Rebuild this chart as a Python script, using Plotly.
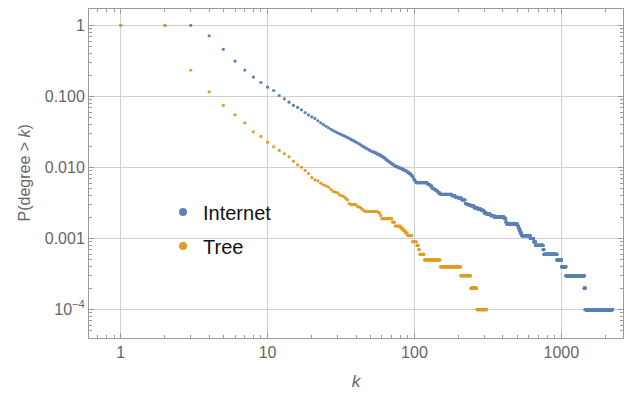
import plotly.graph_objects as go

# Complementary CDF, stored as runs: value holds from k_start[i] to k_start[i+1]-1
internet_k_start = [1, 4, 5, 6, 7, 8, 9, 10, 11, 12, 13, 14, 15, 16, 17, 18, 19, 20, 21, 22,
                    23, 24, 25, 26, 27, 28, 29, 30, 31, 32, 33, 34, 35, 36, 37, 38, 39, 40,
                    41, 42, 43, 44, 45, 46, 47, 48, 49, 50, 51, 52, 54, 56, 58, 60, 62, 64,
                    66, 68, 70, 72, 74, 77, 80, 83, 86, 89, 92, 95, 97, 99, 101, 103, 123,
                    128, 132, 136, 140, 145, 150, 180, 190, 200, 210, 222, 228, 240, 255,
                    270, 285, 298, 310, 330, 350, 410, 420, 425, 505, 512, 518, 525, 535,
                    615, 648, 668, 752, 762, 935, 1005, 1075, 1432, 1452]
internet_p = [1.0, 0.714, 0.459, 0.314, 0.235, 0.187, 0.157, 0.135, 0.121, 0.103, 0.0925,
              0.083, 0.0747, 0.070, 0.0647, 0.0594, 0.0550, 0.0516, 0.0490, 0.0454, 0.0425,
              0.0400, 0.0380, 0.0362, 0.0345, 0.0330, 0.0318, 0.0306, 0.0297, 0.0288, 0.0280,
              0.0272, 0.0264, 0.0256, 0.0248, 0.0240, 0.0234, 0.0227, 0.0221, 0.0215, 0.0208,
              0.0202, 0.0196, 0.0190, 0.0186, 0.0182, 0.0177, 0.0173, 0.0169, 0.0166, 0.0160,
              0.0154, 0.0149, 0.0142, 0.0136, 0.0128, 0.0123, 0.0117, 0.0112, 0.0108, 0.0104,
              0.0100, 0.0097, 0.0093, 0.0090, 0.0086, 0.0082, 0.0078, 0.0074, 0.0068, 0.0064,
              0.0061, 0.0058, 0.0055, 0.0051, 0.0049, 0.0047, 0.0044, 0.0042, 0.0040, 0.0038,
              0.0037, 0.0035, 0.0031, 0.0030, 0.0029, 0.0027, 0.0026, 0.0025, 0.0023, 0.0022,
              0.0021, 0.0020, 0.0019, 0.0017, 0.0016, 0.0015, 0.0014, 0.0013, 0.0012, 0.0011,
              0.0010, 0.0009, 0.0008, 0.0007, 0.0006, 0.0005, 0.0004, 0.0003, 0.0002, 0.0001]
internet_k_max = 2233

tree_k_start = [1, 3, 4, 5, 6, 7, 8, 9, 10, 11, 12, 13, 14, 15, 16, 17, 18, 19, 20, 21, 22,
                23, 24, 25, 26, 27, 28, 29, 30, 31, 32, 33, 34, 35, 36, 37, 41, 43, 44, 45,
                46, 57, 59, 60, 71, 74, 81, 84, 87, 90, 97, 104, 107, 109, 117, 150, 207,
                242, 266]
tree_p = [1.0, 0.235, 0.116, 0.0747, 0.055, 0.0425, 0.0318, 0.0273, 0.0227, 0.0195, 0.0174,
          0.0156, 0.0141, 0.0122, 0.0109, 0.0101, 0.0091, 0.0082, 0.0072, 0.0067, 0.0065,
          0.0060, 0.0057, 0.0055, 0.0053, 0.0049, 0.0046, 0.0045, 0.0044, 0.0041, 0.0040,
          0.0039, 0.0037, 0.0035, 0.0031, 0.0030, 0.0028, 0.0027, 0.0026, 0.0025, 0.0024,
          0.0023, 0.0021, 0.0019, 0.0017, 0.0015, 0.0014, 0.0013, 0.0012, 0.0011, 0.0009,
          0.0008, 0.0007, 0.0006, 0.0005, 0.0004, 0.0003, 0.0002, 0.0001]
tree_k_max = 310

series_names = ["Internet", "Tree"]
x_tick_vals = [1, 10, 100, 1000]
x_tick_text = ["1", "10", "100", "1000"]
y_tick_vals = [1, 0.1, 0.01, 0.001, 0.0001]
y_tick_text = ["1", "0.100", "0.010", "0.001", "10<sup>\u22124</sup>"]


def expand(starts, vals, kmax):
    ks, ps = [], []
    for i, (s, v) in enumerate(zip(starts, vals)):
        e = starts[i + 1] - 1 if i + 1 < len(starts) else kmax
        for k in range(s, e + 1):
            ks.append(k)
            ps.append(v)
    return ks, ps


BLUE = "#5E81B5"
ORANGE = "#E19C24"
GRAY = "#666666"
FRAME = "#9a9a9a"
FONT = "Liberation Sans, Arial, sans-serif"

ik, ip = expand(internet_k_start, internet_p, internet_k_max)
tk, tp = expand(tree_k_start, tree_p, tree_k_max)

fig = go.Figure()
fig.add_trace(go.Scatter(x=ik, y=ip, mode="markers", showlegend=False,
                         marker=dict(color=BLUE, size=3.2, line=dict(width=0))))
fig.add_trace(go.Scatter(x=tk, y=tp, mode="markers", showlegend=False,
                         marker=dict(color=ORANGE, size=3.2, line=dict(width=0))))
# legend entries (one legend box per entry for exact spacing)
for name, col, leg in zip(series_names, [BLUE, ORANGE], ["legend", "legend2"]):
    fig.add_trace(go.Scatter(x=[None], y=[None], mode="markers", name=name,
                             legend=leg, marker=dict(color=col, size=8)))

axis_common = dict(
    type="log", showline=True, linecolor=FRAME, linewidth=1, mirror="allticks",
    ticks="inside", ticklen=5, tickcolor=FRAME, tickwidth=1,
    showgrid=True, gridcolor="#d0d0d0", gridwidth=1, zeroline=False,
    tickfont=dict(family=FONT, size=16, color=GRAY),
    minor=dict(ticks="inside", ticklen=3, tickcolor=FRAME, dtick="D1", showgrid=False),
)

fig.update_xaxes(range=[-0.216, 3.42], tickmode="array", tickvals=x_tick_vals,
                 ticktext=x_tick_text,
                 title=dict(text="<i>k</i>", font=dict(family=FONT, size=17, color=GRAY),
                            standoff=14),
                 **axis_common)
fig.update_yaxes(range=[-4.4, 0.23], tickmode="array", tickvals=y_tick_vals,
                 ticktext=y_tick_text, **axis_common)

fig.add_annotation(text="P(degree > <i>k</i>)", xref="paper", yref="paper",
                   x=(24 - 89) / 534, y=0.5, xanchor="center", yanchor="middle",
                   textangle=-90, showarrow=False,
                   font=dict(family=FONT, size=16, color=GRAY))

legend_style = dict(xanchor="left", yanchor="middle", bgcolor="rgba(0,0,0,0)",
                    font=dict(family=FONT, size=20, color="#111111"), itemsizing="trace")

fig.update_layout(
    width=627, height=396,
    margin=dict(l=89, r=4, t=9, b=58),
    paper_bgcolor="white", plot_bgcolor="white",
    legend=dict(x=0.1386, y=(338 - 212) / 329, **legend_style),
    legend2=dict(x=0.1386, y=(338 - 246) / 329, **legend_style),
)

fig.write_html("out.html")
